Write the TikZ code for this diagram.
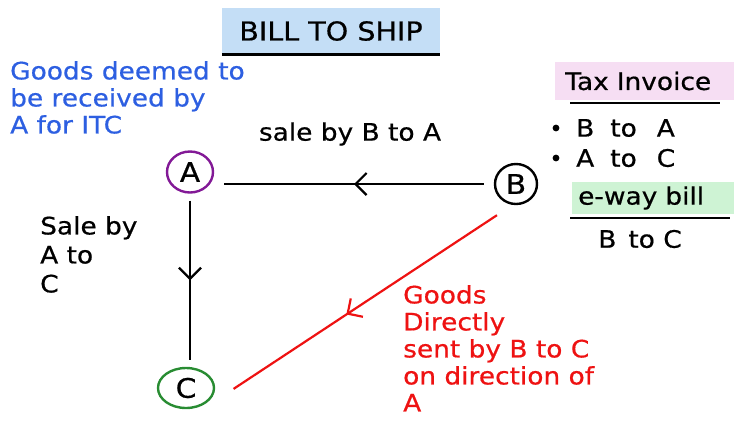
\documentclass[tikz,border=0pt]{standalone}
\usepackage{fontspec}
\setmainfont{DejaVu Sans}[FakeStretch=1.1, FakeBold=0.6]
\usetikzlibrary{positioning, arrows.meta, calc, shapes.geometric, decorations.markings}
\definecolor{penblue}{RGB}{45,95,225}
\definecolor{penred}{RGB}{238,18,18}
\definecolor{penpurple}{RGB}{130,25,150}
\definecolor{pengreen}{RGB}{40,140,50}
\definecolor{hlblue}{RGB}{196,222,246}
\definecolor{hlpink}{RGB}{246,222,243}
\definecolor{hlgreen}{RGB}{206,243,212}
\tikzset{
  party/.style={ellipse, draw, line width=2.4pt, inner sep=0pt,
    font=\fontsize{27}{28}\selectfont},
  flow/.style={line width=2.2pt, postaction={decorate},
    decoration={markings, mark=at position #1 with
      {\arrow{Straight Barb[length=11pt, width=22pt, line width=2.2pt]}}}},
  hand/.style={align=left, inner sep=0pt, font=\fontsize{24}{27}\selectfont}
}

\begin{document}
\begin{tikzpicture}[x=1pt, y=-1pt]
  \useasboundingbox (0,0) rectangle (734,421);

  % title
  \node[fill=hlblue, minimum width=218pt, minimum height=46pt,
    font=\fontsize{26}{28}\selectfont] (title) at (331,31) {BILL TO SHIP};
  \draw[line width=2.6pt] (title.south west) -- (title.south east);

  % the three parties
  \node[party, draw=penpurple, minimum width=46pt, minimum height=41pt] (nA) at (190,172) {A};
  \node[party, draw=black, minimum width=42pt, minimum height=40pt] (nB) at (516,184) {B};
  \node[party, draw=pengreen, minimum width=56pt, minimum height=40pt] (nC) at (186,388) {C};

  \draw[flow=0.5, shorten <=10pt, shorten >=10pt] (nB.west) -- (nB.west -| nA.east);
  \draw[flow=0.5, shorten <=7pt, shorten >=7pt] (nA.south) -- (nA.south |- nC.north);
  \draw[flow=0.54, penred, shorten <=4pt, shorten >=22pt]
    ([yshift=-14pt]nB.south west) -- ([yshift=-13pt]nC.east);

  % notes
  \node[hand, anchor=north west, text=penblue] (itcnote) at (10,61)
    {Goods deemed to\\be received by\\A for ITC};
  \node[hand] (lblBA) at (350,134) {sale by B to A};
  \node[hand, anchor=north west, font=\fontsize{24}{29}\selectfont] (lblAC) at (40,216)
    {Sale by\\A to\\C};
  \node[hand, anchor=north west, text=penred] (lblred) at (403,285)
    {Goods\\Directly\\sent by B to C\\on direction of\\A};

  % documents
  \node[hand, fill=hlpink, anchor=west, minimum height=38pt, text width=170pt,
    inner xsep=10pt] (taxinv) at (555,81) {Tax Invoice};
  \draw[line width=2pt] (570,103) -- (720,103);
  \foreach \yy/\txt in {128/B\hspace{16pt}to\hspace{20pt}A, 158/A\hspace{16pt}to\hspace{20pt}C}
  { \fill (556,\yy) circle (3.4pt);
    \node[hand, anchor=west] (doc\yy) at (576,\yy) {\txt}; }
  \node[hand, fill=hlgreen, anchor=west, minimum height=32pt, text width=160pt,
    inner xsep=6pt] (ewaybill) at (572,198) {e-way bill};
  \draw[line width=2pt] (570,218) -- (730,218);
  \node[hand] (ewaydoc) at (640,239) {B\hspace{12pt}to C};
\end{tikzpicture}
\end{document}
